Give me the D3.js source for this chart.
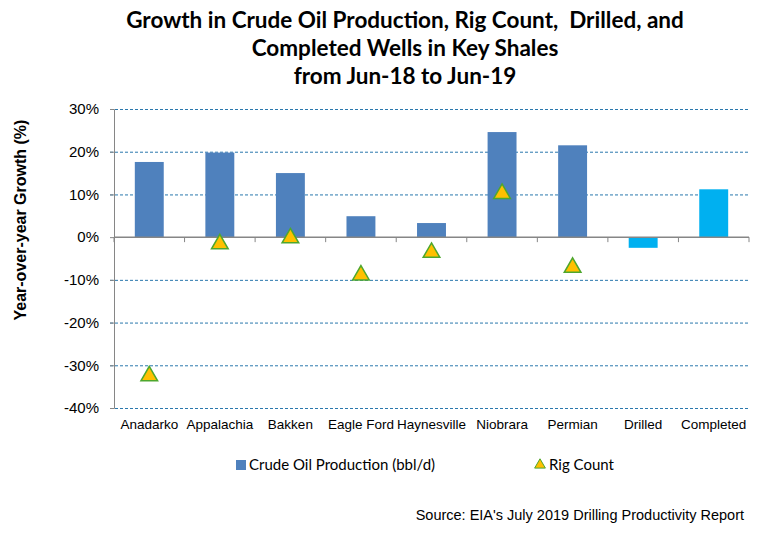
<!DOCTYPE html>
<html>
<head>
<meta charset="utf-8">
<script src="https://cdn.jsdelivr.net/npm/d3@7"></script>
<style>
  body { margin: 0; background: #fff; }
  svg { display: block; }
</style>
</head>
<body>
<svg id="chart" width="773" height="535"></svg>
<script>
// categories and values
var categories = ["Anadarko", "Appalachia", "Bakken", "Eagle Ford", "Haynesville", "Niobrara", "Permian", "Drilled", "Completed"];
var oilGrowth = [17.6, 19.8, 15.0, 4.9, 3.3, 24.6, 21.5, -2.5, 11.2];
var rigGrowth = [-32.5, -1.6, -0.2, -8.9, -3.6, 10.2, -7.1, null, null];
var yTicks = [30, 20, 10, 0, -10, -20, -30, -40];
var titleLines = ["Growth in Crude Oil Production, Rig Count,  Drilled, and", "Completed Wells in Key Shales", "from Jun-18 to Jun-19"];

var svg = d3.select("#chart");
var margin = {left: 114, right: 24, top: 109, bottom: 127};
var width = 773 - margin.left - margin.right,
    height = 535 - margin.top - margin.bottom;

var x = d3.scaleBand().domain(categories).range([0, width]).paddingInner(0.59).paddingOuter(0.295);
var xb = d3.scaleBand().domain(categories).range([0, width]);
var y = d3.scaleLinear().domain([-40, 30]).range([height, 0]);

var g = svg.append("g").attr("transform", "translate(" + margin.left + "," + margin.top + ")");

// title
svg.append("g").selectAll("text")
    .data(titleLines)
  .enter().append("text")
    .attr("x", 405)
    .attr("y", function(d, i) { return 28 + i * 28; })
    .attr("text-anchor", "middle")
    .style("white-space", "pre")
    .style("font-family", "Lato, 'Open Sans', sans-serif")
    .style("font-weight", "bold")
    .style("font-size", "22.5px")
    .text(function(d) { return d; });

// gridlines
g.selectAll(".grid")
    .data(yTicks.filter(function(d) { return d != 0; }))
  .enter().append("line")
    .attr("class", "grid")
    .attr("x1", -4).attr("x2", width)
    .attr("y1", function(d) { return y(d) + 0.5; })
    .attr("y2", function(d) { return y(d) + 0.5; })
    .style("stroke", "#2a78ad")
    .style("stroke-width", 1)
    .style("stroke-dasharray", "3,2");

// y axis
var yAxis = g.append("g").attr("class", "yaxis")
    .call(d3.axisLeft(y).tickValues(yTicks).tickSize(4).tickFormat(function(d) { return d + "%"; }));
yAxis.select(".domain").style("stroke", "#868686");
yAxis.selectAll(".tick line").style("stroke", "#868686");
yAxis.selectAll("text")
    .attr("x", -15)
    .style("font-family", "'Liberation Sans', Arial, sans-serif")
    .style("font-size", "15px")
    .style("fill", "#000");

// bars
g.selectAll(".bar")
    .data(oilGrowth)
  .enter().append("rect")
    .attr("class", "bar")
    .attr("x", function(d, i) { return x(categories[i]); })
    .attr("width", x.bandwidth())
    .attr("y", function(d) { return y(Math.max(0, d)); })
    .attr("height", function(d) { return Math.abs(y(d) - y(0)); })
    .style("fill", function(d, i) { return i < 7 ? "#4f81bd" : "#00b0f0"; });

// zero line with category ticks
var xAxis = g.append("g").attr("transform", "translate(0," + y(0) + ")");
xAxis.append("line").attr("x1", 0).attr("x2", width).style("stroke", "#868686").style("stroke-width", 1.5);
xAxis.selectAll(".xt")
    .data(d3.range(categories.length + 1))
  .enter().append("line")
    .attr("x1", function(d) { return d * xb.step(); })
    .attr("x2", function(d) { return d * xb.step(); })
    .attr("y1", 0).attr("y2", 5)
    .style("stroke", "#868686");

// category labels
g.selectAll(".xlabel")
    .data(categories)
  .enter().append("text")
    .attr("x", function(d) { return xb(d) + xb.bandwidth() / 2; })
    .attr("y", height + 21)
    .attr("text-anchor", "middle")
    .style("font-family", "'Liberation Sans', Arial, sans-serif")
    .style("font-size", "13.5px")
    .text(function(d) { return d; });

// rig count triangles
var tri = d3.symbol().type(d3.symbolTriangle).size(120);
g.selectAll(".rig")
    .data(rigGrowth.map(function(v, i) { return {cat: categories[i], v: v}; }).filter(function(d) { return d.v !== null; }))
  .enter().append("path")
    .attr("class", "rig")
    .attr("d", tri)
    .attr("transform", function(d) { return "translate(" + (xb(d.cat) + xb.bandwidth() / 2) + "," + y(d.v) + ")"; })
    .style("fill", "#ffc000")
    .style("stroke", "#4ea72e")
    .style("stroke-width", 1.5);

// y axis title
svg.append("text")
    .attr("transform", "translate(26," + (margin.top + y(4)) + ") rotate(-90)")
    .attr("text-anchor", "middle")
    .style("font-family", "'Liberation Sans', Arial, sans-serif")
    .style("font-weight", "bold")
    .style("font-size", "16px")
    .text("Year-over-year Growth (%)");

// legend
var leg = svg.append("g").style("font-family", "Lato, 'Open Sans', sans-serif").style("font-size", "15px");
leg.append("rect").attr("x", 236).attr("y", 460).attr("width", 10).attr("height", 10).style("fill", "#4f81bd");
leg.append("text").attr("x", 249).attr("y", 470).text("Crude Oil Production (bbl/d)");
leg.append("path").attr("d", d3.symbol().type(d3.symbolTriangle).size(50))
    .attr("transform", "translate(540,465)")
    .style("fill", "#ffc000").style("stroke", "#4ea72e").style("stroke-width", 1);
leg.append("text").attr("x", 549).attr("y", 470).text("Rig Count");

// source
svg.append("text")
    .attr("x", 744).attr("y", 520)
    .attr("text-anchor", "end")
    .style("font-family", "'Liberation Sans', Arial, sans-serif")
    .style("font-size", "14.5px")
    .text("Source: EIA's July 2019 Drilling Productivity Report");
</script>
</body>
</html>
